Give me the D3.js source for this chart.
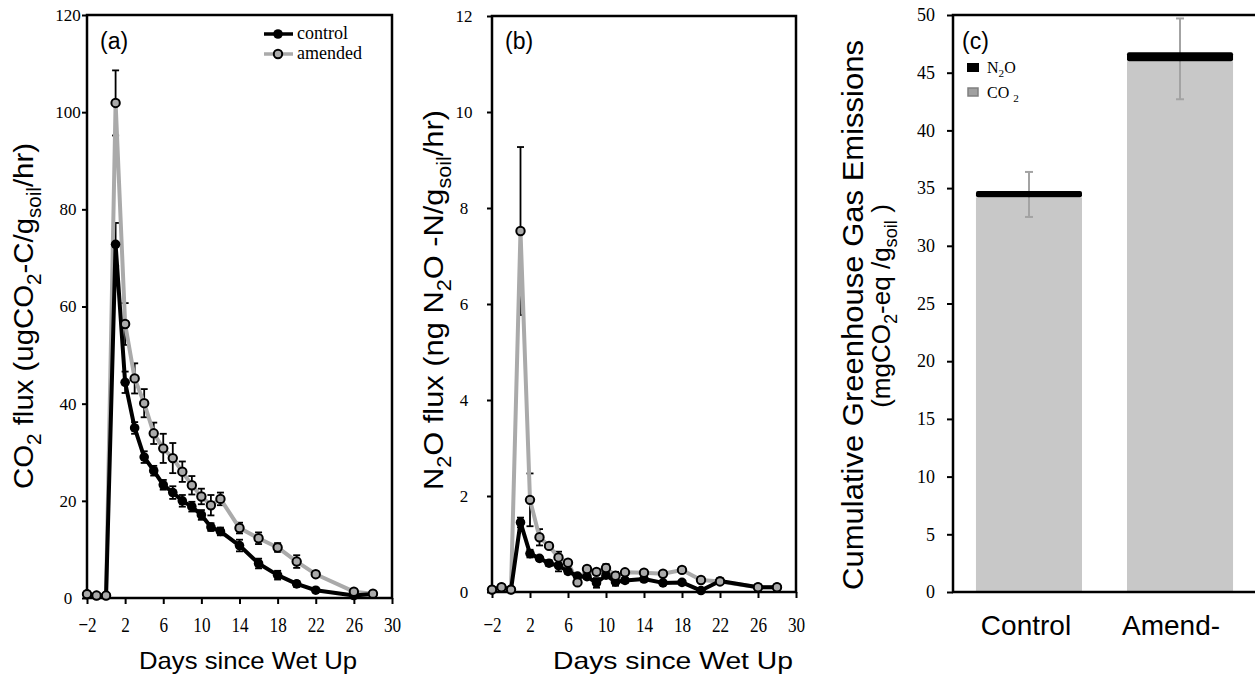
<!DOCTYPE html>
<html><head><meta charset="utf-8">
<script src="https://cdn.jsdelivr.net/npm/d3@7"></script>
<style>body{margin:0;background:#fff} svg{display:block}</style>
</head><body>
<svg id="chart" width="1255" height="677"></svg>
<script>
// ---------- data ----------
const days = [-2,-1,0,1,2,3,4,5,6,7,8,9,10,11,12,14,16,18,20,22,26,28];
const co2Control    = [0.8,0.5,0.5,72.8,44.4,35.0,29.0,26.2,23.3,21.7,20.0,18.8,17.1,14.6,13.7,10.8,7.1,4.7,2.9,1.6,0.5,0.8];
const co2ControlErr = [0.3,0.2,0.2,4.4,2.2,1.2,1.2,1.0,1.0,1.3,1.2,1.0,1.0,0.8,0.8,1.2,1.0,0.9,0.6,0.4,0.2,0.3];
const co2Amended    = [0.8,0.5,0.5,101.9,56.4,45.2,40.1,33.9,30.8,28.8,26.0,23.2,20.9,19.1,20.4,14.4,12.3,10.4,7.5,4.9,1.3,0.9];
const co2AmendedErr = [0.3,0.2,0.2,6.7,4.3,3.1,2.9,2.2,3.0,3.1,2.1,1.9,1.6,2.1,1.3,1.1,1.2,0.9,1.3,0.5,0.3,0.3];
const n2oControl    = [0.05,0.1,0.05,1.45,0.8,0.7,0.6,0.55,0.43,0.33,0.32,0.19,0.35,0.21,0.24,0.27,0.19,0.2,0.03,0.23,0.1,0.1];
const n2oControlErr = [0.02,0.02,0.02,0.1,0.08,0.05,0.06,0.12,0.05,0.05,0.05,0.1,0.05,0.08,0.05,0.05,0.04,0.04,0.02,0.05,0.03,0.03];
const n2oAmended    = [0.05,0.1,0.05,7.52,1.92,1.14,0.96,0.72,0.61,0.2,0.48,0.42,0.5,0.34,0.41,0.4,0.38,0.46,0.25,0.22,0.1,0.1];
const n2oAmendedErr = [0.02,0.02,0.02,1.75,0.55,0.17,0.05,0.12,0.05,0.05,0.05,0.05,0.08,0.08,0.05,0.05,0.05,0.05,0.03,0.03,0.02,0.02];
const xTickValues = [-2,2,6,10,14,18,22,26,30];
const co2TickValues = [0,20,40,60,80,100,120];
const n2oTickValues = [0,2,4,6,8,10,12];
const treatments = ["Control","Amend-"];
const cumCO2 = [34.2, 46.0];
const cumN2O = [0.55, 0.77];
const cumErrLow  = [32.5, 42.7];
const cumErrHigh = [36.4, 49.7];
const cumTickValues = [0,5,10,15,20,25,30,35,40,45,50];

// ---------- helpers ----------
const SANS = "'Liberation Sans', Arial, sans-serif";
const SERIF = "'Liberation Serif', 'Times New Roman', serif";
const svg = d3.select("#chart");

function rich(textSel, parts, fs) {
  let shifted = false;
  parts.forEach(([t, kind]) => {
    const ts = textSel.append("tspan").text(t);
    if (kind === "sub") {
      ts.attr("font-size", fs * 0.7);
      if (!shifted) { ts.attr("dy", fs * 0.28); shifted = true; }
    } else if (shifted) { ts.attr("dy", -fs * 0.28); shifted = false; }
  });
}

function linePanel(o) {
  const x = d3.scaleLinear().domain([-2, 30]).range([o.l, o.r]);
  const y = d3.scaleLinear().domain([0, o.yMax]).range([o.b, o.t]);
  const g = svg.append("g");

  // axes
  const ax = g.append("g").attr("transform", `translate(0,${o.b})`)
    .call(d3.axisBottom(x).tickValues(xTickValues).tickSize(6).tickSizeOuter(0));
  ax.select(".domain").remove();
  ax.selectAll(".tick line").attr("stroke-width", 2);
  ax.selectAll(".tick text").attr("font-family", SERIF).attr("font-size", 22)
    .attr("y", 0).attr("dy", 0).attr("fill", "#000")
    .attr("transform", `translate(0,${o.xLabBase}) scale(0.78,1)`);

  const ay = g.append("g").attr("transform", `translate(${o.l},0)`)
    .call(d3.axisLeft(y).tickValues(o.yTicks).tickSize(5).tickSizeOuter(0));
  ay.select(".domain").remove();
  ay.selectAll(".tick line").attr("stroke-width", 2);
  ay.selectAll(".tick text").attr("font-family", SERIF).attr("font-size", 17)
    .attr("text-anchor", "middle").attr("x", o.yLabX - o.l).attr("fill", "#000");

  g.append("rect").attr("x", o.l).attr("y", o.t).attr("width", o.r - o.l).attr("height", o.b - o.t)
    .attr("fill", "none").attr("stroke", "#000").attr("stroke-width", 2.5);

  const ctrl = days.map((d, i) => ({d, v: o.ctrl[i], e: o.ctrlErr[i]}));
  const amd = days.map((d, i) => ({d, v: o.amd[i], e: o.amdErr[i]}));

  // error bars
  const eb = g.append("g").attr("stroke", "#000").attr("stroke-width", 1.8);
  [...ctrl, ...amd].forEach(p => {
    const cx = x(p.d), y1 = y(Math.max(0, p.v - p.e)), y2 = y(p.v + p.e);
    eb.append("line").attr("x1", cx).attr("x2", cx).attr("y1", y1).attr("y2", y2);
    eb.append("line").attr("x1", cx - 3.5).attr("x2", cx + 3.5).attr("y1", y2).attr("y2", y2);
    eb.append("line").attr("x1", cx - 3.5).attr("x2", cx + 3.5).attr("y1", y1).attr("y2", y1);
  });

  const line = d3.line().x(p => x(p.d)).y(p => y(p.v));
  g.append("path").datum(amd).attr("d", line).attr("fill", "none")
    .attr("stroke", "#aaaaaa").attr("stroke-width", 4).attr("stroke-linejoin", "round");
  g.append("path").datum(ctrl).attr("d", line).attr("fill", "none")
    .attr("stroke", "#000").attr("stroke-width", 4).attr("stroke-linejoin", "round");
  g.selectAll(null).data(ctrl).join("circle").attr("cx", p => x(p.d)).attr("cy", p => y(p.v))
    .attr("r", 4.8).attr("fill", "#000");
  g.selectAll(null).data(amd).join("circle").attr("cx", p => x(p.d)).attr("cy", p => y(p.v))
    .attr("r", 4.2).attr("fill", "#aaaaaa").attr("stroke", "#000").attr("stroke-width", 2);

  // panel letter
  g.append("text").attr("x", o.l + 13).attr("y", 49).attr("font-family", SANS)
    .attr("font-size", 23).text(o.letter);

  // x title
  g.append("text").attr("x", o.xTitleX).attr("y", 669).attr("text-anchor", "middle")
    .attr("font-family", SANS).attr("font-size", 24)
    .attr("textLength", o.xTitleLen).attr("lengthAdjust", "spacingAndGlyphs")
    .text("Days since Wet Up");

  // y title
  const yt = g.append("text").attr("transform", `translate(${o.yTitleX},${o.yTitleY}) rotate(-90)`)
    .attr("text-anchor", "middle").attr("font-family", SANS).attr("font-size", 28)
    .attr("textLength", o.yTitleLen).attr("lengthAdjust", "spacingAndGlyphs");
  rich(yt, o.yTitle, 28);
  return g;
}

const gA = linePanel({
  l: 87, t: 15, r: 392, b: 598, yMax: 120, yTicks: co2TickValues, yLabX: 68, xLabBase: 34,
  ctrl: co2Control, ctrlErr: co2ControlErr, amd: co2Amended, amdErr: co2AmendedErr,
  letter: "(a)", xTitleX: 248, xTitleLen: 218, yTitleX: 33, yTitleY: 316, yTitleLen: 346,
  yTitle: [["CO"],["2","sub"],[" flux (ugCO"],["2","sub"],["-C/g"],["soil","sub"],["/hr)"]]
});
const gB = linePanel({
  l: 492, t: 16, r: 796, b: 592, yMax: 12, yTicks: n2oTickValues, yLabX: 464, xLabBase: 40,
  ctrl: n2oControl, ctrlErr: n2oControlErr, amd: n2oAmended, amdErr: n2oAmendedErr,
  letter: "(b)", xTitleX: 673, xTitleLen: 240, yTitleX: 443, yTitleY: 300, yTitleLen: 380,
  yTitle: [["N"],["2","sub"],["O  flux (ng N"],["2","sub"],["O -N/g"],["soil","sub"],["/hr)"]]
});

// legend (a)
const leg = svg.append("g");
[["control", "#000", "#000", 34, 4.8], ["amended", "#aaaaaa", "#aaaaaa", 54, 4.2]].forEach(([lab, lc, fc, ly, r], i) => {
  leg.append("line").attr("x1", 264).attr("x2", 293).attr("y1", ly).attr("y2", ly)
    .attr("stroke", lc).attr("stroke-width", 3.5);
  leg.append("circle").attr("cx", 278).attr("cy", ly).attr("r", r).attr("fill", fc)
    .attr("stroke", "#000").attr("stroke-width", i ? 2 : 0);
  leg.append("text").attr("x", 297).attr("y", ly + 5).attr("font-family", SERIF)
    .attr("font-size", 18).text(lab);
});

// ---------- panel (c) ----------
const C = {l: 953, t: 15, r: 1258, b: 592};
const xc = d3.scaleBand().domain(treatments).range([C.l, 1256]).paddingInner(0.298).paddingOuter(0.152);
const yc = d3.scaleLinear().domain([0, 50]).range([C.b, C.t]);
const gC = svg.append("g");
const ayc = gC.append("g").attr("transform", `translate(${C.l},0)`)
  .call(d3.axisLeft(yc).tickValues(cumTickValues).tickSize(6).tickPadding(12).tickSizeOuter(0));
ayc.select(".domain").remove();
ayc.selectAll(".tick line").attr("stroke-width", 2);
ayc.selectAll(".tick text").attr("font-family", SERIF).attr("font-size", 18).attr("fill", "#000");

gC.selectAll(null).data(treatments).join("rect")
  .attr("x", d => xc(d)).attr("width", xc.bandwidth())
  .attr("y", (d, i) => yc(cumCO2[i])).attr("height", (d, i) => yc(0) - yc(cumCO2[i]))
  .attr("fill", "#c8c8c8");
// error bars
treatments.forEach((d, i) => {
  const cx = xc(d) + xc.bandwidth() / 2;
  const e = gC.append("g").attr("stroke", "#a3a3a3").attr("stroke-width", 2);
  e.append("line").attr("x1", cx).attr("x2", cx).attr("y1", yc(cumErrLow[i])).attr("y2", yc(cumErrHigh[i]));
  e.append("line").attr("x1", cx - 4).attr("x2", cx + 4).attr("y1", yc(cumErrLow[i])).attr("y2", yc(cumErrLow[i]));
  e.append("line").attr("x1", cx - 4).attr("x2", cx + 4).attr("y1", yc(cumErrHigh[i])).attr("y2", yc(cumErrHigh[i]));
});
gC.selectAll(null).data(treatments).join("rect")
  .attr("x", d => xc(d)).attr("width", xc.bandwidth())
  .attr("y", (d, i) => yc(cumCO2[i] + cumN2O[i])).attr("height", (d, i) => yc(cumCO2[i]) - yc(cumCO2[i] + cumN2O[i]))
  .attr("rx", 2).attr("fill", "#000");

gC.append("rect").attr("x", C.l).attr("y", C.t).attr("width", C.r - C.l).attr("height", C.b - C.t)
  .attr("fill", "none").attr("stroke", "#000").attr("stroke-width", 2.5);

const labDx = [-3, -9];
gC.selectAll(null).data(treatments).join("text")
  .attr("x", (d, i) => xc(d) + xc.bandwidth() / 2 + labDx[i]).attr("y", 635)
  .attr("text-anchor", "middle").attr("font-family", SANS).attr("font-size", 28).text(d => d);

gC.append("text").attr("x", 962).attr("y", 49).attr("font-family", SANS).attr("font-size", 23).text("(c)");

// legend (c)
gC.append("rect").attr("x", 967).attr("y", 63).attr("width", 12).attr("height", 9).attr("fill", "#000");
const tN = gC.append("text").attr("x", 987).attr("y", 73).attr("font-family", SERIF).attr("font-size", 16);
rich(tN, [["N"],["2","sub"],["O"]], 16);
gC.append("rect").attr("x", 968).attr("y", 88).attr("width", 10).attr("height", 8)
  .attr("fill", "#a0a0a0").attr("stroke", "#808080").attr("stroke-width", 1.5);
const tC = gC.append("text").attr("x", 987).attr("y", 98).attr("font-family", SERIF).attr("font-size", 16);
rich(tC, [["CO "],["2","sub"]], 16);

// y title (c)
const t1 = gC.append("text").attr("transform", "translate(863,315) rotate(-90)")
  .attr("text-anchor", "middle").attr("font-family", SANS).attr("font-size", 29)
  .attr("textLength", 550).attr("lengthAdjust", "spacingAndGlyphs")
  .text("Cumulative Greenhouse Gas Emissions");
const t2 = gC.append("text").attr("transform", "translate(890,306) rotate(-90)")
  .attr("text-anchor", "middle").attr("font-family", SANS).attr("font-size", 26);
rich(t2, [["(mgCO"],["2","sub"],["-eq /g"],["soil","sub"],[" )"]], 26);
</script>
</body></html>
